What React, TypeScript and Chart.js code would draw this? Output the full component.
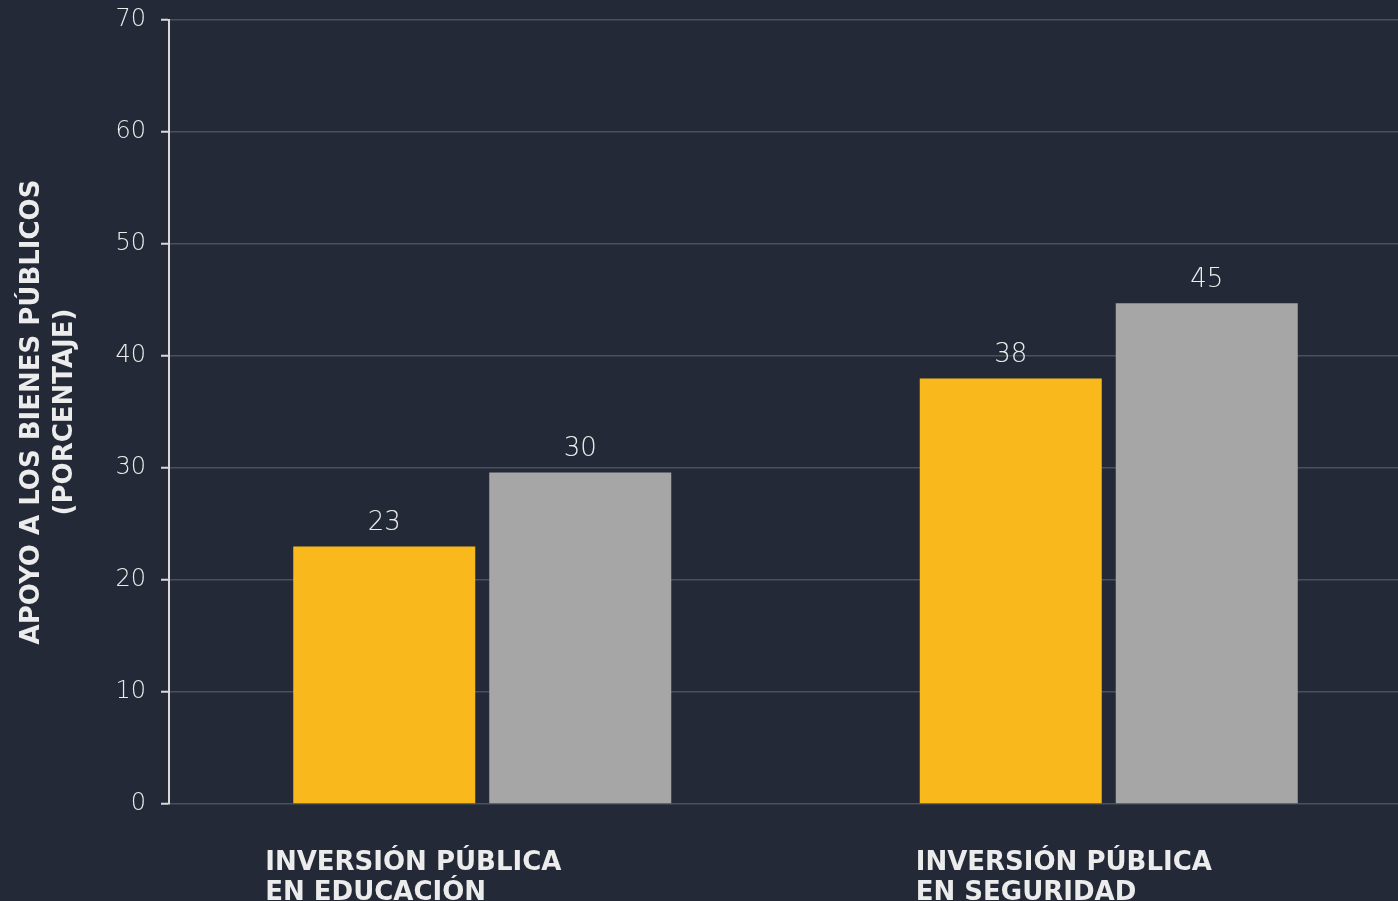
import React, { useEffect, useRef } from "react";
import { Chart, registerables } from "chart.js";

Chart.register(...registerables);

const categories: string[][] = [
  ["INVERSIÓN PÚBLICA", "EN EDUCACIÓN"],
  ["INVERSIÓN PÚBLICA", "EN SEGURIDAD"],
];
const seriesA: number[] = [23, 38];
const seriesB: number[] = [29.6, 44.7];
const labelsA: string[] = ["23", "38"];
const labelsB: string[] = ["30", "45"];
const yTicks: number[] = [0, 10, 20, 30, 40, 50, 60, 70];
const yTitle: string[] = ["APOYO A LOS BIENES PÚBLICOS", "(PORCENTAJE)"];

const BG = "#232936";
const TEXT = "#ececec";
const FONT = "'DejaVu Sans', sans-serif";
const xLabelShift = [-217, -193];

const bgPlugin = {
  id: "bg",
  beforeDraw(chart: any) {
    const { ctx, width, height } = chart;
    ctx.save();
    ctx.fillStyle = BG;
    ctx.fillRect(0, 0, width, height);
    ctx.restore();
  },
};

const valueLabelPlugin = {
  id: "valueLabels",
  afterDatasetsDraw(chart: any) {
    const { ctx } = chart;
    const texts = [labelsA, labelsB];
    ctx.save();
    ctx.font = `300 26px ${FONT}`;
    ctx.fillStyle = TEXT;
    ctx.textAlign = "center";
    ctx.textBaseline = "alphabetic";
    chart.data.datasets.forEach((ds: any, di: number) => {
      const meta = chart.getDatasetMeta(di);
      meta.data.forEach((bar: any, i: number) => {
        ctx.fillText(texts[di][i], bar.x, bar.y - 16);
      });
    });
    ctx.restore();
  },
};

const xLabelPlugin = {
  id: "xLabels",
  afterDraw(chart: any) {
    const { ctx } = chart;
    const xs = chart.scales.x;
    const bottom = chart.chartArea.bottom;
    ctx.save();
    ctx.font = `700 26px ${FONT}`;
    ctx.fillStyle = TEXT;
    ctx.textAlign = "left";
    ctx.textBaseline = "alphabetic";
    categories.forEach((lines, i) => {
      const x = xs.getPixelForValue(i) + xLabelShift[i];
      lines.forEach((line, li) => {
        ctx.fillText(line, x, bottom + 66 + li * 30);
      });
    });
    ctx.restore();
  },
};

export default function App() {
  const ref = useRef<HTMLCanvasElement | null>(null);
  useEffect(() => {
    if (!ref.current) return;
    const chart = new Chart(ref.current, {
      type: "bar",
      data: {
        labels: categories.map((c) => c.join(" ")),
        datasets: [
          {
            data: seriesA,
            backgroundColor: "#F9B91C",
            categoryPercentage: 0.6257,
            barPercentage: 0.9286,
          },
          {
            data: seriesB,
            backgroundColor: "#A6A6A6",
            categoryPercentage: 0.6257,
            barPercentage: 0.9286,
          },
        ],
      },
      options: {
        responsive: false,
        animation: false,
        layout: { padding: { top: 20, right: 8, bottom: 89, left: 0 } },
        plugins: {
          legend: { display: false },
          tooltip: { enabled: false },
        },
        scales: {
          x: {
            display: true,
            ticks: { display: false },
            grid: { display: false },
            border: { display: false },
          },
          y: {
            min: 0,
            max: 70,
            afterBuildTicks: (scale: any) => {
              scale.ticks = yTicks.map((v) => ({ value: v }));
            },
            afterFit: (scale: any) => {
              scale.width = 169;
              scale.paddingTop = 0;
              scale.paddingBottom = 0;
            },
            ticks: {
              color: TEXT,
              font: { family: FONT, size: 24, weight: "300" },
              padding: 15,
            },
            grid: {
              color: "#4a505c",
              lineWidth: 1.5,
              tickLength: 8,
              tickColor: "#d9d9d9",
              tickWidth: 2,
            },
            border: { color: "#d9d9d9", width: 2 },
            title: {
              display: true,
              text: yTitle,
              color: TEXT,
              font: { family: FONT, size: 26, weight: "700", lineHeight: 1.25 },
              padding: { top: 16, bottom: 0 },
            },
          },
        },
      },
      plugins: [bgPlugin, valueLabelPlugin, xLabelPlugin],
    });
    return () => chart.destroy();
  }, []);

  return (
    <div
      style={{
        position: "fixed",
        left: 0,
        top: 0,
        width: 1398,
        height: 901,
        overflow: "hidden",
        background: BG,
      }}
    >
      <canvas ref={ref} width={1430} height={901} style={{ display: "block" }} />
    </div>
  );
}
